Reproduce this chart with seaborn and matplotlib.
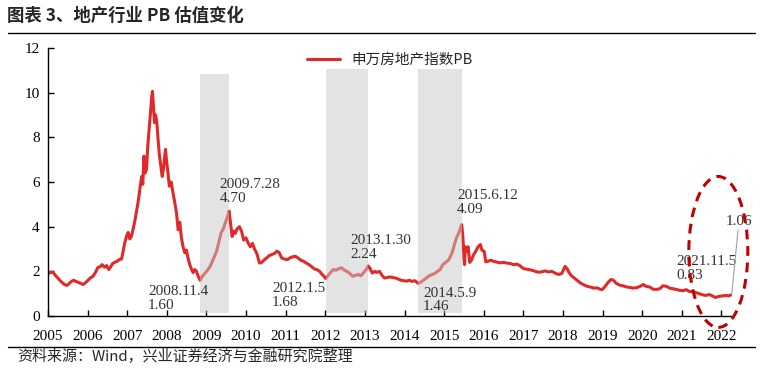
import numpy as np
import matplotlib
matplotlib.use("Agg")
import matplotlib.pyplot as plt
import matplotlib.dates as mdates
from matplotlib.patches import Ellipse
from matplotlib.lines import Line2D
import pandas as pd
import seaborn as sns

# 申万房地产指数PB
dates = [
    "2005-01-04", "2005-01-20", "2005-02-15", "2005-03-10", "2005-04-01", "2005-04-20", "2005-05-15", "2005-06-05",
    "2005-06-25", "2005-07-15", "2005-08-05", "2005-08-25", "2005-09-15", "2005-10-10", "2005-10-30", "2005-11-20",
    "2005-12-10",
    "2006-01-05", "2006-01-25", "2006-02-20", "2006-03-15", "2006-04-05", "2006-04-25", "2006-05-15", "2006-06-05",
    "2006-06-25", "2006-07-15", "2006-08-01", "2006-08-20", "2006-09-10", "2006-10-01", "2006-10-20", "2006-11-10",
    "2006-11-25", "2006-12-10", "2006-12-25",
    "2007-01-10", "2007-01-25", "2007-02-10", "2007-02-25", "2007-03-15", "2007-04-01", "2007-04-15", "2007-05-01",
    "2007-05-15", "2007-05-25", "2007-06-05", "2007-06-15", "2007-06-28", "2007-07-10", "2007-07-25", "2007-08-05",
    "2007-08-15", "2007-08-22", "2007-09-01", "2007-09-10", "2007-09-20", "2007-10-01", "2007-10-15", "2007-10-25",
    "2007-11-05", "2007-11-20", "2007-12-01", "2007-12-10", "2007-12-20", "2007-12-31",
    "2008-01-10", "2008-01-25", "2008-02-10", "2008-02-25", "2008-03-15", "2008-03-31", "2008-04-15", "2008-04-30",
    "2008-05-15", "2008-05-30", "2008-06-15", "2008-06-30", "2008-07-15", "2008-07-31", "2008-08-15", "2008-08-31",
    "2008-09-15", "2008-10-01", "2008-10-15", "2008-11-04", "2008-11-20", "2008-12-15",
    "2009-01-10", "2009-02-01", "2009-02-20", "2009-03-15", "2009-04-05", "2009-04-25", "2009-05-15", "2009-06-05",
    "2009-06-25", "2009-07-15", "2009-07-28", "2009-08-10", "2009-08-25", "2009-09-10", "2009-09-25", "2009-10-10",
    "2009-11-01", "2009-11-20", "2009-12-10", "2009-12-31",
    "2010-01-20", "2010-02-10", "2010-03-01", "2010-03-20", "2010-04-10", "2010-05-05", "2010-05-25", "2010-06-15",
    "2010-07-10", "2010-08-01", "2010-08-25", "2010-09-20", "2010-10-12", "2010-11-01", "2010-11-25", "2010-12-20",
    "2011-01-15", "2011-02-10", "2011-03-05", "2011-04-01", "2011-04-25", "2011-05-20", "2011-06-15", "2011-07-10",
    "2011-08-05", "2011-08-30", "2011-09-25", "2011-10-15", "2011-11-10", "2011-12-05", "2011-12-20",
    "2012-01-05", "2012-01-25", "2012-02-20", "2012-03-15", "2012-04-10", "2012-05-05", "2012-05-30", "2012-06-25",
    "2012-07-20", "2012-08-15", "2012-09-10", "2012-10-05", "2012-11-01", "2012-11-25", "2012-12-20",
    "2013-01-15", "2013-01-30", "2013-02-15", "2013-03-10", "2013-04-01", "2013-04-20", "2013-05-15", "2013-06-10",
    "2013-07-01", "2013-07-25", "2013-08-20", "2013-09-15", "2013-10-10", "2013-11-05", "2013-12-01", "2013-12-25",
    "2014-01-20", "2014-02-15", "2014-03-10", "2014-04-05", "2014-05-09", "2014-06-01", "2014-06-25", "2014-07-20",
    "2014-08-15", "2014-09-10", "2014-10-05", "2014-11-01", "2014-11-25", "2014-12-20",
    "2015-01-15", "2015-02-10", "2015-03-01", "2015-03-20", "2015-04-10", "2015-04-25", "2015-05-15", "2015-05-30",
    "2015-06-12", "2015-06-22", "2015-07-03", "2015-07-08", "2015-07-15", "2015-07-25", "2015-08-10", "2015-08-25",
    "2015-09-10", "2015-09-30", "2015-10-20", "2015-11-10", "2015-12-01", "2015-12-15",
    "2016-01-05", "2016-01-20", "2016-02-10", "2016-03-05", "2016-04-01", "2016-05-01", "2016-06-01", "2016-07-01",
    "2016-08-01", "2016-09-01", "2016-10-01", "2016-11-01", "2016-12-01", "2016-12-25",
    "2017-01-20", "2017-02-20", "2017-03-20", "2017-04-20", "2017-05-20", "2017-06-20", "2017-07-20", "2017-08-20",
    "2017-09-20", "2017-10-20", "2017-11-20", "2017-12-20",
    "2018-01-20", "2018-02-10", "2018-02-25", "2018-03-20", "2018-04-15", "2018-05-10", "2018-06-10", "2018-07-10",
    "2018-08-10", "2018-09-10", "2018-10-10", "2018-11-10", "2018-12-10", "2018-12-28",
    "2019-01-20", "2019-02-20", "2019-03-20", "2019-04-10", "2019-05-10", "2019-06-10", "2019-07-10", "2019-08-10",
    "2019-09-10", "2019-10-10", "2019-11-10", "2019-12-10",
    "2020-01-10", "2020-02-10", "2020-03-10", "2020-04-10", "2020-05-10", "2020-06-10", "2020-07-10", "2020-08-10",
    "2020-09-10", "2020-10-10", "2020-11-10", "2020-12-10",
    "2021-01-10", "2021-02-10", "2021-03-10", "2021-04-10", "2021-05-10", "2021-06-10", "2021-07-10", "2021-08-10",
    "2021-09-10", "2021-10-10", "2021-11-05", "2021-12-10",
    "2022-01-10", "2022-02-10", "2022-03-10", "2022-04-05",
]
pb = [
    1.90, 1.95, 1.96, 1.82, 1.70, 1.60, 1.48, 1.40, 1.37, 1.45, 1.55, 1.60, 1.55, 1.50, 1.46, 1.41, 1.48,
    1.60, 1.70, 1.78, 1.95, 2.17, 2.20, 2.30, 2.18, 2.26, 2.08, 2.20, 2.35, 2.41, 2.45, 2.53, 2.55, 2.90, 3.29, 3.55,
    3.74, 3.45, 3.58, 3.90, 4.32, 4.80, 5.20, 5.80, 6.25, 5.90, 7.16, 6.40, 6.56, 7.60, 8.50, 9.10, 9.80, 10.06,
    9.30, 8.66, 9.00, 8.70, 7.76, 7.20, 6.80, 6.25, 6.60, 7.00, 7.46, 6.90,
    6.50, 5.81, 6.00, 5.60, 5.07, 4.60, 3.86, 4.20, 3.50, 3.10, 2.83, 2.95, 2.60, 2.30, 2.10, 1.94, 2.08, 2.00,
    1.80, 1.60, 1.75, 1.90,
    2.05, 2.20, 2.40, 2.67, 2.90, 3.30, 3.72, 3.90, 4.20, 4.45, 4.70, 4.20, 3.56, 3.80, 3.70, 3.90, 4.00, 3.80,
    3.40, 3.50,
    3.27, 3.10, 3.25, 3.00, 2.80, 2.37, 2.40, 2.50, 2.60, 2.70, 2.75, 2.80, 2.90, 2.85, 2.60, 2.55,
    2.52, 2.60, 2.65, 2.67, 2.60, 2.50, 2.45, 2.37, 2.30, 2.20, 2.10, 2.08, 2.00, 1.85, 1.78,
    1.68, 1.80, 1.95, 2.08, 2.05, 2.12, 2.16, 2.05, 2.00, 1.90, 1.78, 1.82, 1.86, 1.80, 1.95,
    2.10, 2.24, 2.15, 1.92, 2.00, 1.95, 2.00, 1.80, 1.70, 1.72, 1.75, 1.72, 1.70, 1.65, 1.60, 1.58,
    1.56, 1.60, 1.55, 1.58, 1.46, 1.52, 1.60, 1.70, 1.80, 1.85, 1.90, 2.00, 2.08, 2.30,
    2.40, 2.50, 2.67, 2.90, 3.27, 3.50, 3.70, 3.90, 4.09, 3.60, 2.60, 2.30, 3.10, 2.90, 3.10, 2.40, 2.50, 2.75,
    2.90, 3.10, 3.20, 2.95,
    2.90, 2.43, 2.45, 2.50, 2.45, 2.41, 2.38, 2.40, 2.37, 2.35, 2.30, 2.32, 2.25, 2.15,
    2.10, 2.08, 2.05, 2.00, 1.96, 1.98, 2.02, 1.97, 2.00, 1.92, 1.86, 1.90,
    2.22, 2.10, 1.95, 1.80, 1.70, 1.60, 1.48, 1.40, 1.33, 1.30, 1.25, 1.26, 1.20, 1.18,
    1.30, 1.50, 1.64, 1.60, 1.45, 1.38, 1.35, 1.30, 1.28, 1.25, 1.27, 1.32,
    1.41, 1.32, 1.30, 1.20, 1.19, 1.22, 1.35, 1.33, 1.25, 1.22, 1.19, 1.15,
    1.13, 1.18, 1.10, 1.08, 1.05, 1.00, 0.95, 0.92, 0.96, 0.90, 0.83, 0.88,
    0.90, 0.92, 0.90, 0.96,
]

# shaded phases
band_start = ["2008-11-04", "2012-01-05", "2014-05-09"]
band_end = ["2009-07-28", "2013-01-30", "2015-06-12"]
band_top = [10.85, 11.08, 11.08]

# point labels
ann_labels = ["2008.11.4\n1.60", "2009.7.28\n4.70", "2012.1.5\n1.68", "2013.1.30\n2.24",
              "2014.5.9\n1.46", "2015.6.12\n4.09", "2021.11.5\n0.83"]
ann_text_x = ["2007-07-12", "2009-05-04", "2010-08-28", "2012-08-18",
              "2014-06-20", "2015-05-01", "2020-11-10"]
ann_text_y = [0.78, 5.58, 0.92, 3.07, 0.72, 5.08, 2.13]

df = pd.DataFrame({"date": pd.to_datetime(dates), "pb": pb})

fig = plt.figure(figsize=(7.62, 3.74), dpi=100)
ax = fig.add_axes([48 / 762, 58 / 374, 684 / 762, 268 / 374])
sns.set_style("white")
plt.rcParams["font.family"] = ["Liberation Serif", "Noto Sans CJK SC"]

red = "#e02a2a"
sns.lineplot(data=df, x="date", y="pb", ax=ax, color=red, lw=2.2,
             label="申万房地产指数PB", zorder=2)

for s, e, t in zip(band_start, band_end, band_top):
    ax.fill_between(pd.to_datetime([s, e]), 0.15, t, color="#c8c8c8", alpha=0.5,
                    lw=0, zorder=3)

for lab, tx, ty in zip(ann_labels, ann_text_x, ann_text_y):
    ax.text(pd.Timestamp(tx), ty, lab, fontsize=11, color="#333333", va="center",
            ha="left", linespacing=1.05, family="Liberation Serif", zorder=4)

# last value label with leader line
ax.plot(pd.to_datetime(["2022-04-05", "2022-06-03"]), [0.96, 3.85], color="#a0a0a0",
        lw=0.8, clip_on=False, zorder=4)
ax.text(pd.Timestamp("2022-02-05"), 4.21, "1.06", fontsize=11, color="#333333",
        va="center", ha="left", family="Liberation Serif")

ax.add_patch(Ellipse((0.98, 0.239), 0.0863, 0.563, transform=ax.transAxes, fill=False,
                     ec="#c00000", lw=2.2, ls=(0, (3.2, 2.2)), clip_on=False, zorder=5))

ax.set_xlim(pd.Timestamp("2005-01-01"), pd.Timestamp("2022-04-08"))
ax.set_ylim(0, 12)
ax.set_yticks(range(0, 13, 2))
ax.xaxis.set_major_locator(mdates.YearLocator())
ax.xaxis.set_major_formatter(mdates.DateFormatter("%Y"))
ax.set_xlabel("")
ax.set_ylabel("")
for sp in ["top", "right"]:
    ax.spines[sp].set_visible(False)
for sp in ["left", "bottom"]:
    ax.spines[sp].set_color("black")
    ax.spines[sp].set_linewidth(1.0)
ax.tick_params(axis="both", direction="in", length=4, width=1, labelsize=11,
               colors="black", pad=6)
ax.tick_params(axis="x", pad=10)
for lab in ax.get_xticklabels() + ax.get_yticklabels():
    lab.set_family("Liberation Serif")

leg = ax.legend(loc="upper center", bbox_to_anchor=(0.5, 1.03), frameon=False,
                handlelength=2.2,
                prop={"family": ["Noto Sans CJK SC"], "size": 10.5})

fig.text(7 / 762, 1 - 16 / 374, "图表 3、地产行业 PB 估值变化", fontsize=12.5, fontweight="bold",
         va="center", ha="left", family=["Noto Sans CJK SC"])
fig.add_artist(Line2D([8 / 762, 755 / 762], [1 - 33 / 374] * 2, color="black", lw=1))
fig.add_artist(Line2D([8 / 762, 755 / 762], [1 - 347 / 374] * 2, color="black", lw=1))
fig.text(17 / 762, 1 - 357 / 374, "资料来源：Wind，兴业证券经济与金融研究院整理", fontsize=10.8,
         va="center", ha="left", family=["Noto Sans CJK SC"])

fig.savefig("out.png", dpi=100)
